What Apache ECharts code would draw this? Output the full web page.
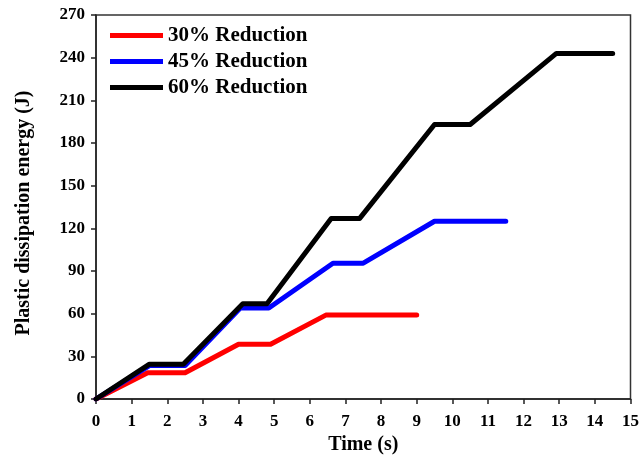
<!DOCTYPE html>
<html><head><meta charset="utf-8">
<script src="https://cdn.jsdelivr.net/npm/echarts@6/dist/echarts.min.js"></script>
<style>html,body{margin:0;padding:0;background:#fff}#c{width:642px;height:460px}</style>
</head><body><div id="c"></div>
<script>
const seriesNames = ['30% Reduction', '45% Reduction', '60% Reduction'];
const seriesColors = ['#ff0000', '#0000ff', '#000000'];
const red30 = [[0,0],[1.45,18.5],[2.5,18.5],[4.0,38.5],[4.9,38.5],[6.45,59],[9.0,59]];
const blue45 = [[0,0],[1.5,23.5],[2.5,23.5],[4.05,64],[4.85,64],[6.65,95.5],[7.5,95.5],[9.5,125],[11.5,125]];
const black60 = [[0,0],[1.5,24.5],[2.45,24.5],[4.12,67],[4.8,67],[6.6,127],[7.4,127],[9.5,193],[10.5,193],[12.92,243],[14.5,243]];
const xTicks = {min:0, max:15, interval:1};
const yTicks = {min:0, max:270, interval:30};
const font = 'Liberation Serif';
const chart = echarts.init(document.getElementById('c'));
const data = [red30, blue45, black60];
chart.setOption({
  animation:false,
  grid:{left:96, right:8, top:15, bottom:57, show:true, borderColor:'#333', borderWidth:1.5},
  legend:{
    orient:'vertical', left:110, top:25, padding:0, itemWidth:53, itemHeight:5, itemGap:5,
    icon:'rect',
    data:seriesNames,
    textStyle:{fontFamily:font, fontWeight:'bold', fontSize:21, lineHeight:21, color:'#000'}
  },
  xAxis:{
    type:'value', min:xTicks.min, max:xTicks.max, interval:xTicks.interval,
    name:'Time (s)', nameLocation:'middle', nameGap:36,
    nameTextStyle:{fontFamily:font, fontWeight:'bold', fontSize:20, color:'#000'},
    axisLine:{lineStyle:{color:'#222', width:1.5}},
    axisTick:{length:5, lineStyle:{color:'#222', width:1.5}},
    axisLabel:{fontFamily:font, fontWeight:'bold', fontSize:17, color:'#000', margin:14},
    splitLine:{show:false}
  },
  yAxis:{
    type:'value', min:yTicks.min, max:yTicks.max, interval:yTicks.interval,
    name:'Plastic dissipation energy (J)', nameLocation:'middle', nameGap:62,
    nameTextStyle:{fontFamily:font, fontWeight:'bold', fontSize:20, color:'#000', padding:[0,12,0,0]},
    axisLine:{show:true, lineStyle:{color:'#222', width:1.5}},
    axisTick:{show:true, length:5, lineStyle:{color:'#222', width:1.5}},
    axisLabel:{fontFamily:font, fontWeight:'bold', fontSize:17, color:'#000', margin:11},
    splitLine:{show:false}
  },
  series: seriesNames.map((n,i)=>({
    name:n, type:'line', data:data[i], showSymbol:false, symbol:'none',
    z: i===2 ? 5 : 3,
    itemStyle:{color:seriesColors[i]},
    lineStyle:{color:seriesColors[i], width:5, cap:'round', join:'round'}
  }))
});
</script></body></html>
